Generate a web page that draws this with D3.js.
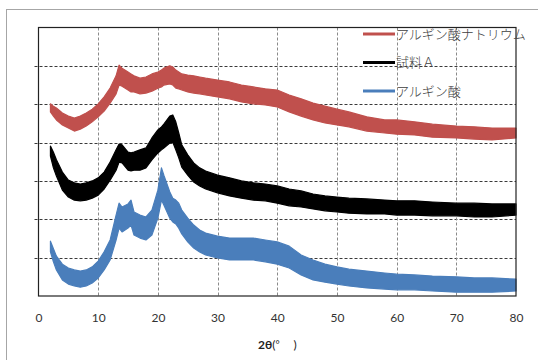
<!DOCTYPE html>
<html><head><meta charset="utf-8">
<script src="https://cdn.jsdelivr.net/npm/d3@7"></script>
<style>
html,body{margin:0;padding:0;background:#fff;}
svg{display:block;}
</style></head>
<body>
<svg id="chart" width="538" height="360"></svg>
<script>
// 2θ sample positions (degrees)
const twoTheta = [2, 2.5, 3, 4, 5, 6, 7, 8, 9, 10, 11, 12, 13, 13.5, 14, 15, 15.5, 16, 17, 18, 19, 20, 20.6, 21, 22, 22.5, 23, 23.5, 24, 25, 26, 27, 28, 30, 32, 34, 36, 38, 40, 42, 44, 46, 48, 50, 52, 55, 58, 60, 63, 66, 70, 73, 76, 80];

// アルギン酸ナトリウム (upper / lower envelope of the noisy trace, arbitrary units)
const sodiumHi = [5.01, 4.95, 4.90, 4.77, 4.69, 4.64, 4.69, 4.77, 4.87, 5.01, 5.19, 5.42, 5.74, 6.02, 5.94, 5.84, 5.79, 5.74, 5.68, 5.71, 5.79, 5.84, 5.89, 5.94, 6.00, 5.97, 5.89, 5.84, 5.79, 5.76, 5.74, 5.71, 5.68, 5.63, 5.58, 5.50, 5.45, 5.40, 5.37, 5.24, 5.14, 5.03, 4.95, 4.87, 4.80, 4.67, 4.59, 4.59, 4.54, 4.48, 4.43, 4.41, 4.38, 4.38];
const sodiumLo = [4.80, 4.69, 4.59, 4.46, 4.38, 4.30, 4.35, 4.43, 4.54, 4.67, 4.82, 5.03, 5.27, 5.50, 5.47, 5.37, 5.32, 5.32, 5.27, 5.29, 5.34, 5.42, 5.45, 5.50, 5.53, 5.50, 5.42, 5.40, 5.37, 5.32, 5.29, 5.27, 5.24, 5.19, 5.14, 5.06, 5.01, 4.98, 4.93, 4.80, 4.69, 4.59, 4.51, 4.46, 4.41, 4.30, 4.25, 4.22, 4.20, 4.14, 4.12, 4.09, 4.07, 4.12];

// 試料Ａ
const sampleHi = [3.91, 3.75, 3.55, 3.23, 3.02, 2.95, 2.92, 2.95, 3.00, 3.08, 3.23, 3.49, 3.81, 3.96, 3.94, 3.75, 3.73, 3.75, 3.81, 3.86, 4.12, 4.33, 4.41, 4.48, 4.69, 4.72, 4.54, 4.25, 3.94, 3.68, 3.47, 3.34, 3.26, 3.15, 3.08, 3.00, 2.95, 2.92, 2.87, 2.79, 2.74, 2.66, 2.61, 2.58, 2.55, 2.53, 2.50, 2.48, 2.48, 2.45, 2.42, 2.42, 2.40, 2.40];
const sampleLo = [3.65, 3.34, 3.13, 2.76, 2.58, 2.50, 2.48, 2.50, 2.55, 2.63, 2.79, 3.02, 3.28, 3.49, 3.47, 3.28, 3.26, 3.28, 3.28, 3.34, 3.55, 3.73, 3.81, 3.86, 3.99, 4.01, 3.81, 3.60, 3.36, 3.15, 2.97, 2.87, 2.79, 2.69, 2.61, 2.55, 2.50, 2.48, 2.42, 2.35, 2.32, 2.27, 2.22, 2.19, 2.16, 2.14, 2.14, 2.11, 2.11, 2.09, 2.09, 2.06, 2.06, 2.11];

// アルギン酸
const acidHi = [1.43, 1.23, 1.04, 0.83, 0.73, 0.68, 0.65, 0.68, 0.76, 0.91, 1.15, 1.46, 2.11, 2.42, 2.32, 2.40, 2.50, 2.19, 2.11, 2.06, 2.24, 2.76, 3.34, 3.15, 2.71, 2.55, 2.50, 2.42, 2.24, 2.03, 1.85, 1.72, 1.64, 1.56, 1.51, 1.51, 1.51, 1.46, 1.41, 1.30, 1.07, 0.94, 0.83, 0.76, 0.70, 0.65, 0.60, 0.57, 0.55, 0.52, 0.50, 0.47, 0.47, 0.44];
const acidLo = [1.15, 0.89, 0.68, 0.42, 0.31, 0.26, 0.23, 0.26, 0.34, 0.47, 0.68, 0.94, 1.46, 1.77, 1.67, 1.77, 1.85, 1.59, 1.51, 1.46, 1.59, 2.03, 2.50, 2.37, 2.03, 1.93, 1.88, 1.77, 1.62, 1.41, 1.25, 1.15, 1.07, 0.99, 0.94, 0.94, 0.94, 0.89, 0.83, 0.73, 0.55, 0.42, 0.36, 0.31, 0.26, 0.21, 0.18, 0.16, 0.16, 0.13, 0.10, 0.10, 0.10, 0.13];

const seriesNames = ["アルギン酸ナトリウム", "試料Ａ", "アルギン酸"];
const seriesColors = ["#C0504D", "#000000", "#4A7EBB"];
const xTicks = [0, 10, 20, 30, 40, 50, 60, 70, 80];
const yTicks = [0, 1, 2, 3, 4, 5, 6, 7];

const series = [
  {name: seriesNames[0], color: seriesColors[0], hi: sodiumHi, lo: sodiumLo},
  {name: seriesNames[1], color: seriesColors[1], hi: sampleHi, lo: sampleLo},
  {name: seriesNames[2], color: seriesColors[2], hi: acidHi, lo: acidLo}
];

const svg = d3.select("#chart");
const L = 38.5, R = 516, T = 27.5, B = 296;
const x = d3.scaleLinear().domain([0, 80]).range([L, R]);
const y = d3.scaleLinear().domain([0, 7]).range([B, T]);

// outer frame
svg.append("rect").attr("x", 6.5).attr("y", 9.5).attr("width", 560).attr("height", 380)
  .attr("fill", "#fff").attr("stroke", "#a6a6a6").attr("stroke-width", 1);

// gridlines
svg.append("g").selectAll("line").data(yTicks.slice(1, -1)).join("line")
  .attr("x1", L - 4).attr("x2", R).attr("y1", d => Math.round(y(d)) + 0.5).attr("y2", d => Math.round(y(d)) + 0.5)
  .attr("stroke", "#3a3a3a").attr("stroke-width", 1).attr("stroke-dasharray", "3,2");
svg.append("g").selectAll("line").data(xTicks.slice(1, -1)).join("line")
  .attr("y1", T).attr("y2", B).attr("x1", d => Math.round(x(d)) + 0.5).attr("x2", d => Math.round(x(d)) + 0.5)
  .attr("stroke", "#8a8a8a").attr("stroke-width", 1).attr("stroke-dasharray", "3,2");

// traces as noise bands
const area = d3.area().x((d, i) => x(twoTheta[i])).y0(d => y(d[1])).y1(d => y(d[0]));
series.forEach(s => {
  const pts = s.hi.map((h, i) => [h, s.lo[i]]);
  svg.append("path").datum(pts).attr("d", area)
    .attr("fill", s.color).attr("stroke", s.color).attr("stroke-width", 1.2).attr("stroke-linejoin", "round");
});

// plot border
svg.append("rect").attr("x", L).attr("y", T).attr("width", R - L).attr("height", B - T)
  .attr("fill", "none").attr("stroke", "#222").attr("stroke-width", 1.2);

// x axis labels
const xAxis = d3.axisBottom(x).tickValues(xTicks).tickSize(0).tickPadding(17);
const gx = svg.append("g").attr("transform", `translate(0,${B})`).call(xAxis);
gx.select(".domain").remove();
gx.selectAll("text").attr("font-family", "Lato, 'Noto Sans', sans-serif").attr("font-size", 12).attr("fill", "#333");

// x title
const t = svg.append("text").attr("x", 258).attr("y", 349).attr("font-family", "Lato, 'Noto Sans', sans-serif")
  .attr("font-size", 12).attr("fill", "#222");
t.append("tspan").attr("font-weight", "bold").text("2θ");
t.append("tspan").text("(");
t.append("tspan").attr("font-size", 10).attr("dy", -1).text("°");
t.append("tspan").attr("dx", 14).attr("dy", 1).text(")");

// legend
const leg = svg.append("g");
series.forEach((s, i) => {
  const ly = 34 + i * 28.5;
  leg.append("line").attr("x1", 363).attr("x2", 395).attr("y1", ly).attr("y2", ly)
    .attr("stroke", s.color).attr("stroke-width", 3);
  leg.append("text").attr("x", 396).attr("y", ly + 4.5).text(s.name)
    .attr("font-family", "'Noto Sans CJK JP', sans-serif").attr("font-size", 13).attr("font-weight", 300).attr("fill", "#404040");
});
</script>
</body></html>
